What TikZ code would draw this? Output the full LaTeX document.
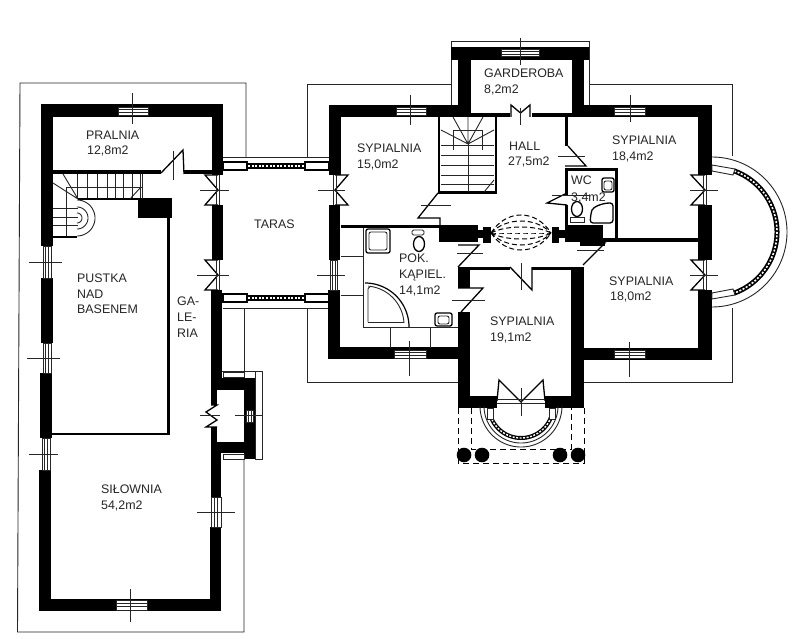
\documentclass[tikz,border=0pt]{standalone}
\usepackage{fontspec}
\setmainfont{Liberation Sans}
\newcommand\wall[4]{\fill[black] (#1,#2) rectangle (#3,#4);}
% horizontal window: x1 x2 y1 y2 crossx crossy1 crossy2
\newcommand\hwin[7]{\fill[white] (#1,#3) rectangle (#2,#4);
  \draw[thinl] (#1,#3) rectangle (#2,#4);
  \draw[thinl] (#1,{(#3+#4)/2-1.5}) -- (#2,{(#3+#4)/2-1.5}) (#1,{(#3+#4)/2+1.5}) -- (#2,{(#3+#4)/2+1.5});
  \draw[thinl] (#5,#6) -- (#5,#7);}
% vertical window: y1 y2 x1 x2 crossy crossx1 crossx2
\newcommand\vwin[7]{\fill[white] (#3,#1) rectangle (#4,#2);
  \draw[thinl] (#3,#1) rectangle (#4,#2);
  \draw[thinl] ({(#3+#4)/2-1.5},#1) -- ({(#3+#4)/2-1.5},#2) ({(#3+#4)/2+1.5},#1) -- ({(#3+#4)/2+1.5},#2);
  \draw[thinl] (#6,#5) -- (#7,#5);}
% French door on a vertical wall: xfar xapex y1 y2 crossx1 crossx2
\newcommand\bowdoor[6]{\fill[white] (#2-4,#3) rectangle (#2+4,#4);
  \draw[medl] (#2,#3) -- (#1,#3) -- (#2,{(#3+#4)/2}) -- (#1,#4) -- (#2,#4);
  \draw[thinl] (#2-1.5,#3) -- (#2-1.5,#4) (#2+1.5,#3) -- (#2+1.5,#4);
  \draw[thinl] (#5,{(#3+#4)/2}) -- (#6,{(#3+#4)/2});}
\newcommand\parc[6][]{\draw[#1] plot[domain=#5:#6,samples=70] ({#2+#4*cos(\x)},{#3+#4*sin(\x)});}
\newcommand\balus[4]{% x1 x2 y1 y2
  \fill[black] (#1,#3) rectangle (#2,#4);
  \draw[white,line width=1.6pt,dash pattern=on 2pt off 1.6pt] (#1,{(#3+#4)/2}) -- (#2,{(#3+#4)/2});}
\tikzset{thinl/.style={line width=0.9pt,black!85},medl/.style={line width=1.3pt,black},
  lbl/.style={anchor=base west,inner sep=0pt,font=\fontsize{12.4}{14}\selectfont,text=black!85}}
\begin{document}
\begin{tikzpicture}[x=1pt,y=-1pt]
\useasboundingbox (0,0) rectangle (800,639);
\fill[white] (0,0) rectangle (800,639);
% ----- outer thin terrace lines
\draw[thinl] (246,157) -- (246,83) -- (20,83) -- (17.5,632) -- (244,632) -- (244,459);
\draw[thinl] (244,371) -- (244,308);
\draw[thinl] (307,157) -- (307,84) -- (451,84);
\draw[thinl] (589,84) -- (732,84) -- (732,156);
\draw[thinl] (732,308) -- (732,382) -- (584,382);
\draw[thinl] (307,308) -- (307,382) -- (458,382);
\draw[thinl] (222,371) -- (262,371) -- (262,459) -- (255,459);
\draw[thinl] (255,371) -- (255,459);
% ----- garderoba top
\draw[thinl] (451,105) -- (451,41) -- (589,41) -- (589,105);
\wall{451}{47}{589}{60}
\wall{458}{47}{471}{117}
\wall{572}{47}{584}{117}
\hwin{501}{539}{49}{56}{520.5}{38}{65}
% ----- left building walls
\wall{41}{104}{223}{117}
\wall{41}{104}{53}{246}
\wall{41}{278}{53}{343}
\wall{40}{373}{52}{438}
\wall{39}{470}{51}{611}
\wall{39}{599}{221}{611}
\wall{212}{104}{223}{175}
\wall{212}{205}{223}{260}
\wall{211}{290}{222}{380}
\wall{211}{378}{254}{390}
\wall{211}{390}{217}{405}
\wall{211}{427}{217}{442}
\wall{211}{442}{255}{453}
\wall{244}{453}{255}{459}
\wall{211}{442}{221}{497}
\wall{210}{527}{221}{599}
\wall{244}{378}{255}{459}
\draw[thinl] (223,372) rectangle (244,377);
\draw[thinl] (223,454) rectangle (244,459);
\hwin{118}{148}{107}{115}{132}{93}{124}
\vwin{246}{278}{43}{51}{262}{29}{62}
\vwin{343}{373}{43}{51}{358}{27}{60}
\vwin{438}{470}{42}{50}{454}{29}{58}
\hwin{116}{147}{600}{610}{130.5}{589}{622}
\vwin{497}{527}{211}{221}{512}{197}{235}
\vwin{410}{422}{246}{253}{415}{235}{262}
\bowdoor{205}{218}{175}{205}{200}{229}
\bowdoor{205}{218}{260}{290}{197}{229}
% galeria door, bump
\draw[medl] (211,405) -- (217,405) -- (206,412) -- (217,420) -- (206,427) -- (217,427);
\draw[thinl] (200,415) -- (220,415);
% pralnia wall + door
\wall{53}{170}{161}{174}
\wall{184}{170}{212}{174}
\draw[medl] (161,173) -- (183,150) -- (184,174);
\draw[thinl] (173,151) -- (173,180);
% left stairs
\foreach \x in {77,87,97,107,115,123,132,140}{\draw[thinl] (\x,174) -- (\x,199);}
\draw[thinl] (66,187) -- (142,187);
\draw[medl] (78,199) -- (172,199);
\draw[thinl] (142,174) -- (142,199);
\draw[thinl] (130,199) -- (141,187);
\draw[thinl] (53,183) -- (78,199) (63,174) -- (78,199);
\draw[thinl] (66,187) -- (66,237);
\foreach \y in {208,217,225}{\draw[thinl] (53,\y) -- (78,\y);}
\draw[medl] (53,237) -- (77,237);
\parc[thinl]{77}{218}{18}{-90}{90}
\parc[thinl]{77}{218}{11}{-90}{90}
\parc[thinl]{77}{218}{5}{-90}{90}
\wall{138}{200}{172}{218}
\wall{167}{218}{170}{435}
\wall{52}{433}{170}{435}
% ----- terrace balustrades
\draw[thinl] (223,157) -- (329,157);
\draw[medl,fill=white] (223,162) rectangle (247,170);
\draw[medl,fill=white] (305,162) rectangle (329,170);
\balus{248}{304}{163}{169}
\draw[thinl] (223,308) -- (329,308);
\draw[medl,fill=white] (223,294) rectangle (247,302);
\draw[medl,fill=white] (305,294) rectangle (329,302);
\balus{248}{304}{295}{301}
% ----- main building walls
\wall{329}{105}{471}{117}
\wall{329}{105}{341}{175}
\wall{329}{205}{340}{260}
\wall{328}{290}{340}{359}
\wall{328}{347}{470}{359}
\wall{471}{113}{510}{117}
\wall{532}{113}{572}{117}
\wall{572}{105}{712}{117}
\wall{698}{105}{712}{175}
\wall{698}{205}{712}{260}
\wall{698}{290}{712}{360}
\wall{571}{348}{712}{360}
\wall{458}{267}{470}{288}
\wall{458}{312}{470}{408}
\wall{458}{396}{497}{408}
\wall{545}{396}{584}{408}
\wall{571}{267}{584}{408}
\wall{470}{267}{510}{270}
\wall{532}{267}{571}{270}
\wall{341}{225}{439}{228}
\wall{439}{225}{478}{242}
\wall{478}{230}{484}{238}
\wall{483}{227}{491}{243}
\wall{552}{227}{559}{243}
\wall{559}{230}{565}{238}
\wall{565}{225}{603}{242}
\wall{580}{242}{605}{246}
\wall{603}{238}{618}{242}
\wall{615}{168}{618}{242}
\wall{565}{168}{618}{171}
\wall{565}{168}{568}{195}
\wall{565}{205}{568}{225}
\wall{565}{117}{568}{146}
\wall{618}{238}{698}{242}
% windows
\hwin{396}{426}{107}{115}{410.5}{95}{125}
\hwin{614}{645}{107}{115}{630}{95}{122}
\hwin{614}{645}{350}{358}{629}{342}{377}
\hwin{394}{426}{350}{358}{409}{341}{376}
\vwin{260}{290}{330}{337}{275}{317}{345}
\bowdoor{348}{335}{175}{205}{318}{345}
\bowdoor{691}{705}{175}{205}{690}{718}
\bowdoor{691}{705}{260}{290}{690}{718}
% garderoba door
\draw[medl] (511,117) -- (511,105) -- (520.5,113) -- (530,105) -- (530,117);
\draw[thinl] (520.5,108) -- (520.5,125);
% right stairs
\draw[line width=2.4pt] (439,117) -- (439,192.5) -- (496,192.5) -- (496,117);
\foreach \y in {145,155,165,175,184}{\draw[thinl] (441,\y) -- (494,\y);}
\draw[thinl] (468,144) -- (468,192);
\draw[thinl] (468,144) -- (453,117) (468,144) -- (468,117) (468,144) -- (483,117) (468,144) -- (441,130) (468,144) -- (494,130);
\draw[thinl] (453,150) -- (453,130) -- (482,130) -- (482,150);
\draw[thinl] (484,192) -- (494,180);
% doors, Z-shaped
\draw[medl] (438,193) -- (418,218) -- (440,218) -- (440,225);
\draw[thinl] (421,205) -- (451,205);
\draw[medl] (568,146) -- (586,166) -- (565,166);
\draw[thinl] (558,156) -- (585,156);
\draw[medl] (567,193) -- (547,203) -- (567,205);
\draw[thinl] (552,195) -- (590,195);
\draw[medl] (458,267) -- (479,245) -- (458,245);
\draw[thinl] (457,253) -- (483,253);
\draw[medl] (458,288) -- (483,288) -- (461,312);
\draw[thinl] (452,300) -- (485,300);
\draw[medl] (583,265) -- (605,243) -- (580,243);
\draw[thinl] (577,250) -- (604,250);
\draw[medl] (510,267) -- (532,290) -- (532,267);
\draw[thinl] (521,263) -- (521,290);
% entry door
\draw[medl] (497,401) -- (499,380) -- (521,402) -- (543,380) -- (545,401);
\draw[thinl] (497,399.5) -- (545,399.5) (497,403) -- (545,403);
\draw[thinl] (521,388) -- (521,416);
% vestibule dashed lens
\foreach \m in {215,221,227,233,239,245,250}{
  \draw[line width=1pt,black,dash pattern=on 5pt off 3pt] (491,233) .. controls (506,{233+(\m-233)*4/3}) and (536,{233+(\m-233)*4/3}) .. (551,233);}
% bay window east
\parc[thinl]{712}{232}{75}{-90}{90}
\parc[line width=5pt,black]{712}{232}{65}{-70}{70}
\parc[line width=1.6pt,white,dash pattern=on 2pt off 1.6pt]{712}{232}{65}{-70}{70}
\draw[thinl,fill=white] (712,165) -- (735,169) -- (733,175) -- (712,171) -- cycle;
\draw[thinl,fill=white] (712,299) -- (735,295) -- (733,289) -- (712,293) -- cycle;
% entry porch
\parc[thinl]{521}{406}{41}{0}{180}
\parc[thinl]{521}{406}{37}{0}{180}
\parc[line width=4pt,black]{521}{406}{32}{20}{160}
\parc[line width=1.4pt,white,dash pattern=on 2pt off 1.5pt]{521}{406}{32}{20}{160}
\draw[thinl,fill=white] (487,408) rectangle (493,419);
\draw[thinl,fill=white] (549,408) rectangle (555,419);
\draw[line width=1pt,dash pattern=on 6pt off 4pt] (458,408) -- (458,463) -- (584,463) -- (584,408);
\draw[line width=1pt,dash pattern=on 6pt off 4pt] (471,408) -- (471,449) -- (571,449) -- (571,408);
\foreach \x in {464,482,560,578}{\fill[black] (\x,455) circle[radius=7.3];}
% bathroom fixtures
\draw[thinl] (363,228) -- (363,327) -- (458,327);
\draw[thinl] (341,256) -- (363,256) (341,295) -- (363,295);
\draw[thinl] (390,327) -- (390,348) (430,327) -- (430,348);
\draw[medl,rounded corners=2pt] (366,229) rectangle (390,253);
\draw[thinl,rounded corners=2pt] (369,232) rectangle (387,250);
\draw[thinl,rounded corners=1.5pt] (412,230) rectangle (424,235);
\draw[medl] (419,244) ellipse[x radius=5.5,y radius=7.5];
\draw[medl,rounded corners=2pt] (435,313) rectangle (452,326);
\draw[thinl,rounded corners=2pt] (438,316) rectangle (449,324);
\parc[line width=1.2pt,black]{365}{327}{44}{-90}{0}
\draw[thinl,rounded corners=1pt] (368,322) -- (368,288) -- (370,287);
\parc[thinl]{365}{325}{39}{-85}{-3}
\draw[thinl] (368,322) -- (404,322);
% WC fixtures
\draw[thinl] (570,217) rectangle (584,222);
\draw[medl] (577,209) ellipse[x radius=5.5,y radius=7.5];
\draw[medl,rounded corners=2pt] (602,178) rectangle (614,192);
\draw[thinl,rounded corners=2pt] (604,181) rectangle (612,190);
\draw[medl,rounded corners=3pt] (590,223) -- (591,213) .. controls (593,207) and (602,203) .. (613,203) -- (613,223) -- cycle;
% ----- labels
\node[lbl] (t1) at (86,140) {PRALNIA};
\node[lbl] (t2) at (87,155) {12,8m2};
\node[lbl] (t3) at (77,282) {PUSTKA};
\node[lbl] (t4) at (77,298) {NAD};
\node[lbl] (t5) at (77,313) {BASENEM};
\node[lbl] (t6) at (177,305) {GA-};
\node[lbl] (t7) at (177,321) {LE-};
\node[lbl] (t8) at (177,337) {RIA};
\node[lbl] (t9) at (254,229) {TARAS};
\node[lbl] (t10) at (357,153) {SYPIALNIA};
\node[lbl] (t11) at (357,169) {15,0m2};
\node[lbl] (t12) at (484,78) {GARDEROBA};
\node[lbl] (t13) at (484,94) {8,2m2};
\node[lbl] (t14) at (509,151) {HALL};
\node[lbl] (t15) at (508,166) {27,5m2};
\node[lbl] (t16) at (612,145) {SYPIALNIA};
\node[lbl] (t17) at (612,161) {18,4m2};
\node[lbl] (t18) at (571,185) {WC};
\node[lbl] (t19) at (571,201) {3,4m2};
\node[lbl] (t20) at (609,285) {SYPIALNIA};
\node[lbl] (t21) at (610,300) {18,0m2};
\node[lbl] (t22) at (399,262) {POK.};
\node[lbl] (t23) at (399,278) {KĄPIEL.};
\node[lbl] (t24) at (399,294) {14,1m2};
\node[lbl] (t25) at (490,325) {SYPIALNIA};
\node[lbl] (t26) at (490,341) {19,1m2};
\node[lbl] (t27) at (101,493) {SIŁOWNIA};
\node[lbl] (t28) at (101,509) {54,2m2};
\end{tikzpicture}
\end{document}
